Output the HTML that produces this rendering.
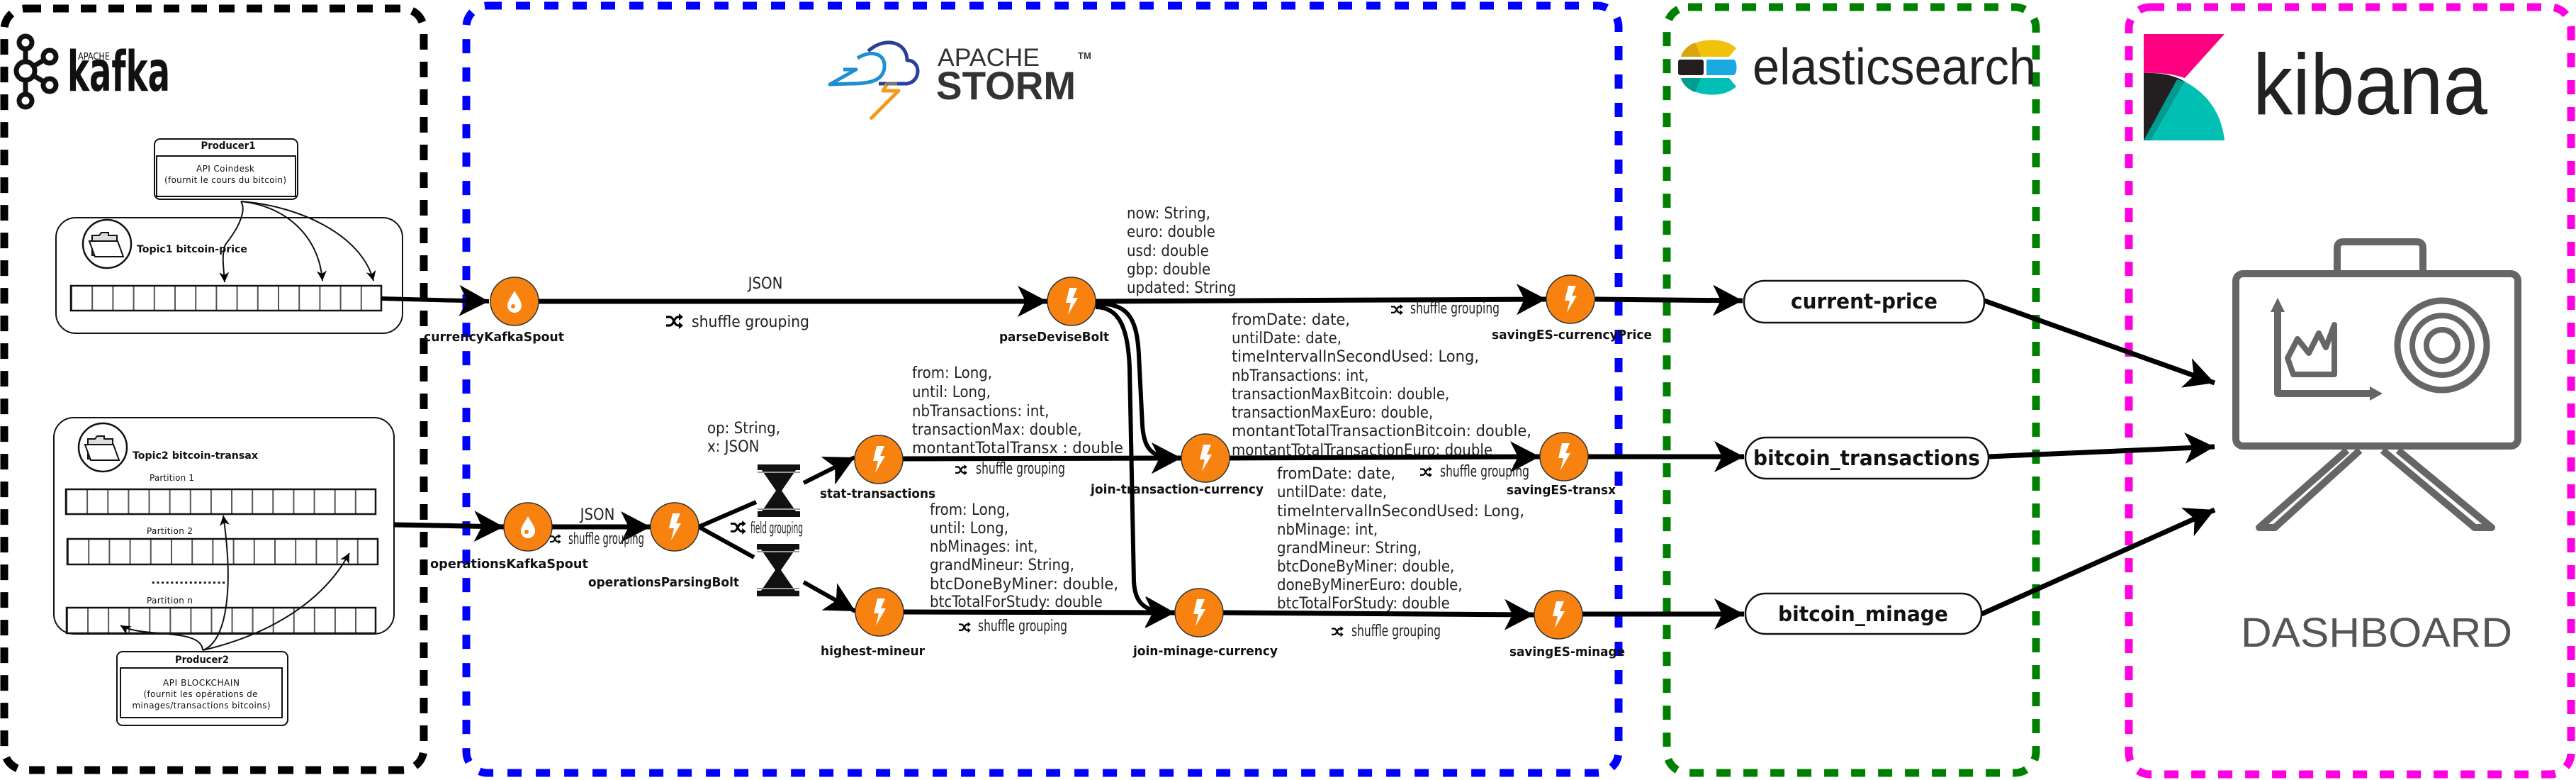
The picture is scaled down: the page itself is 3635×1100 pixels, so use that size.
<!DOCTYPE html>
<html><head><meta charset="utf-8"><style>
html,body{margin:0;padding:0;background:#fff;width:3635px;height:1100px;overflow:hidden}
svg{display:block}
.f{font-family:"DejaVu Sans Condensed","DejaVu Sans","Liberation Sans",sans-serif;font-stretch:condensed;font-size:22px;fill:#222}
.n{font-family:"DejaVu Sans Condensed","DejaVu Sans","Liberation Sans",sans-serif;font-stretch:condensed;font-weight:bold;font-size:18px;fill:#111}
.k{font-family:"DejaVu Sans","Liberation Sans",sans-serif;fill:#111}
</style></head><body>
<svg width="3635" height="1100" viewBox="0 0 3635 1100" xmlns="http://www.w3.org/2000/svg">
<defs>
<marker id="ah" markerUnits="userSpaceOnUse" markerWidth="46" markerHeight="46" refX="42" refY="22" orient="auto"><path d="M0,0 L42,22 L0,44 L11,22 Z" fill="#000"/></marker>
<marker id="as" markerUnits="userSpaceOnUse" markerWidth="16" markerHeight="16" refX="14" refY="7" orient="auto"><path d="M0,0 L14,7 L0,14 L4,7 Z" fill="#000"/></marker>
<g id="bolt"><circle r="34" fill="#f8820f" stroke="#333" stroke-width="1.5"/><path d="M-3,-19 L8,-19 L2,-5 L9,-5 L-5,19 L-1,2 L-8,2 Z" fill="#fff"/></g>
<g id="spout"><circle r="34" fill="#f8820f" stroke="#333" stroke-width="1.5"/><path d="M0,-15 C5,-6 10,0 10,6 A10,10 0 0 1 -10,6 C-10,0 -5,-6 0,-15 Z" fill="#fff"/><circle cx="-2" cy="7" r="3" fill="#f8820f"/></g>
<g id="shuf"><path d="M0,5 H5 C11,5 11,17 17,17 H20 M0,17 H5 C11,17 11,5 17,5 H20" fill="none" stroke="#000" stroke-width="3.2"/><path d="M18,0 L24,5 L18,10 Z M18,12 L24,17 L18,22 Z" fill="#000"/></g>
<g id="hg"><rect x="-30" y="-37" width="60" height="8" fill="#111"/><rect x="-30" y="29" width="60" height="8" fill="#111"/><path d="M-24,-29 L24,-29 L4,0 L24,29 L-24,29 L-4,0 Z" fill="#111"/><rect x="-30" y="-27" width="60" height="2" fill="#999"/><rect x="-30" y="25" width="60" height="2" fill="#999"/></g>
<pattern id="p1" patternUnits="userSpaceOnUse" x="100" y="0" width="29.2" height="10"><rect x="0" width="2" height="10" fill="#555"/></pattern>
<pattern id="p2" patternUnits="userSpaceOnUse" x="93" y="0" width="29.13" height="10"><rect x="0" width="2" height="10" fill="#555"/></pattern>
<pattern id="p3" patternUnits="userSpaceOnUse" x="95" y="0" width="29.2" height="10"><rect x="0" width="2" height="10" fill="#555"/></pattern>
<pattern id="p4" patternUnits="userSpaceOnUse" x="94" y="0" width="29.07" height="10"><rect x="0" width="2" height="10" fill="#555"/></pattern>
</defs>

<!-- Dashed containers -->
<rect x="6" y="12" width="592" height="1074" rx="30" fill="none" stroke="#000" stroke-width="11" stroke-dasharray="22 17"/>
<rect x="658" y="8" width="1626" height="1082" rx="30" fill="none" stroke="#0000ff" stroke-width="11" stroke-dasharray="20 20"/>
<rect x="2352" y="10" width="521" height="1080" rx="30" fill="none" stroke="#008000" stroke-width="11" stroke-dasharray="20 18"/>
<rect x="3004" y="10" width="624" height="1082" rx="30" fill="none" stroke="#ff00e0" stroke-width="11" stroke-dasharray="20 18"/>

<!-- Kafka logo -->
<g fill="none" stroke="#111" stroke-width="7">
<line x1="36" y1="62" x2="36" y2="140"/><line x1="36" y1="100" x2="70" y2="80"/><line x1="36" y1="100" x2="70" y2="120"/>
<circle cx="36" cy="60" r="9" fill="#fff"/><circle cx="36" cy="100" r="13" fill="#fff"/><circle cx="36" cy="142" r="9" fill="#fff"/>
<circle cx="70" cy="80" r="9" fill="#fff"/><circle cx="70" cy="120" r="9" fill="#fff"/>
</g>
<text x="110" y="84" class="k" font-size="13" textLength="45" lengthAdjust="spacingAndGlyphs">APACHE</text>
<text x="95" y="128" class="k" font-size="78" font-weight="bold" textLength="145" lengthAdjust="spacingAndGlyphs" fill="#1a1a1a">kafka</text>

<!-- Producer1 -->
<rect x="218" y="196" width="202" height="85" rx="8" fill="#fff" stroke="#111" stroke-width="2"/>
<rect x="221" y="220" width="196" height="57" fill="none" stroke="#111" stroke-width="2"/>
<text x="322" y="210" class="k" font-size="14" font-weight="bold" text-anchor="middle" textLength="77" lengthAdjust="spacingAndGlyphs">Producer1</text>
<text x="318" y="242" class="k" font-size="12" text-anchor="middle" textLength="82">API Coindesk</text>
<text x="318" y="258" class="k" font-size="12" text-anchor="middle" textLength="172">(fournit le cours du bitcoin)</text>

<!-- Topic1 -->
<rect x="79" y="307" width="489" height="163" rx="28" fill="#fff" stroke="#111" stroke-width="2"/>
<circle cx="151" cy="344" r="34" fill="#fff" stroke="#111" stroke-width="2.5"/>
<path d="M130,332 h10 l3,-4 h10 v4 h12 v28 h-35 Z" fill="#ddd" stroke="#111" stroke-width="2"/>
<path d="M126,340 h40 l8,22 h-40 Z" fill="#fff" stroke="#111" stroke-width="2"/>
<text x="193" y="356" class="k" font-size="14" font-weight="bold" textLength="156" lengthAdjust="spacingAndGlyphs">Topic1 bitcoin-price</text>
<rect x="100" y="403" width="438" height="35" fill="url(#p1)" stroke="#111" stroke-width="2.5"/>
<g fill="none" stroke="#111" stroke-width="2">
<path d="M340,284 C350,300 330,330 318,345 C312,360 316,380 317,398" marker-end="url(#as)"/>
<path d="M340,284 C400,290 450,330 455,396" marker-end="url(#as)"/>
<path d="M340,284 C420,290 510,330 527,396" marker-end="url(#as)"/>
</g>

<!-- Topic2 -->
<rect x="76" y="589" width="480" height="305" rx="28" fill="#fff" stroke="#111" stroke-width="2"/>
<circle cx="145" cy="631" r="34" fill="#fff" stroke="#111" stroke-width="2.5"/>
<path d="M124,619 h10 l3,-4 h10 v4 h12 v28 h-35 Z" fill="#ddd" stroke="#111" stroke-width="2"/>
<path d="M120,627 h40 l8,22 h-40 Z" fill="#fff" stroke="#111" stroke-width="2"/>
<text x="187" y="647" class="k" font-size="14" font-weight="bold" textLength="177" lengthAdjust="spacingAndGlyphs">Topic2 bitcoin-transax</text>
<text x="211" y="678" class="k" font-size="12" textLength="63">Partition 1</text>
<rect x="93" y="690" width="437" height="35" fill="url(#p2)" stroke="#111" stroke-width="2.5"/>
<text x="207" y="753" class="k" font-size="12" textLength="65">Partition 2</text>
<rect x="95" y="760" width="438" height="36" fill="url(#p3)" stroke="#111" stroke-width="2.5"/>
<text x="213" y="823" class="k" font-size="14" font-weight="bold" textLength="106" lengthAdjust="spacingAndGlyphs">................</text>
<text x="207" y="851" class="k" font-size="12" textLength="65">Partition n</text>
<rect x="94" y="857" width="436" height="36" fill="url(#p4)" stroke="#111" stroke-width="2.5"/>

<!-- Producer2 -->
<rect x="165" y="919" width="241" height="104" rx="8" fill="#fff" stroke="#111" stroke-width="2"/>
<rect x="170" y="942" width="228" height="70" fill="none" stroke="#111" stroke-width="2"/>
<text x="285" y="935" class="k" font-size="14" font-weight="bold" text-anchor="middle" textLength="76" lengthAdjust="spacingAndGlyphs">Producer2</text>
<text x="284" y="967" class="k" font-size="12" text-anchor="middle" textLength="108">API BLOCKCHAIN</text>
<text x="283" y="983" class="k" font-size="12" text-anchor="middle" textLength="161">(fournit les opérations de</text>
<text x="284" y="999" class="k" font-size="12" text-anchor="middle" textLength="195">minages/transactions bitcoins)</text>
<g fill="none" stroke="#111" stroke-width="2">
<path d="M286,917 C320,905 330,830 315,727" marker-end="url(#as)"/>
<path d="M286,917 C360,900 450,860 493,780" marker-end="url(#as)"/>
<path d="M286,917 C285,885 200,900 170,882" marker-end="url(#as)"/>
</g>

<!-- Storm logo -->
<g fill="none" stroke-linejoin="round">
<path d="M1225,72 C1250,50 1280,60 1280,85 C1300,85 1300,115 1280,118 L1240,118" stroke="#2a3f9a" stroke-width="5"/>
<path d="M1210,82 C1228,70 1250,75 1248,95 C1246,115 1225,118 1200,118 L1171,119 L1208,98 L1190,98" stroke="#1e8fd0" stroke-width="5"/>
<path d="M1252,118 L1246,128 L1268,128 L1228,168" stroke="#f29b20" stroke-width="5"/>
<path d="M1250,118 L1266,118" stroke="#777" stroke-width="5"/>
</g>
<text x="1323" y="93" font-family="Liberation Sans,sans-serif" font-size="35" fill="#333" textLength="144" lengthAdjust="spacingAndGlyphs">APACHE</text>
<text x="1321" y="140" font-family="Liberation Sans,sans-serif" font-size="56" font-weight="bold" fill="#333" textLength="197" lengthAdjust="spacingAndGlyphs">STORM</text>
<text x="1521" y="83" font-family="Liberation Sans,sans-serif" font-size="13" font-weight="bold" fill="#333">TM</text>

<!-- Main arrows -->
<g stroke="#000" stroke-width="7" fill="none">
<line x1="538" y1="421" x2="690" y2="425" stroke-width="6" marker-end="url(#ah)"/>
<line x1="760" y1="425" x2="1478" y2="425" marker-end="url(#ah)"/>
<line x1="1546" y1="425" x2="2182" y2="422" marker-end="url(#ah)"/>
<line x1="2251" y1="422" x2="2459" y2="424" marker-end="url(#ah)"/>
<path d="M1546,428 C1590,428 1604,445 1607,500 L1612,600 C1615,640 1630,646 1667,646" stroke-width="6" marker-end="url(#ah)"/>
<path d="M1546,433 C1578,433 1592,460 1594,520 L1600,820 C1602,858 1622,863 1658,864" stroke-width="6" marker-end="url(#ah)"/>
<line x1="1274" y1="647" x2="1667" y2="646" marker-end="url(#ah)"/>
<line x1="1735" y1="646" x2="2173" y2="644" marker-end="url(#ah)"/>
<line x1="2241" y1="644" x2="2461" y2="644" marker-end="url(#ah)"/>
<line x1="1275" y1="863" x2="1658" y2="864" marker-end="url(#ah)"/>
<line x1="1726" y1="864" x2="2165" y2="867" marker-end="url(#ah)"/>
<line x1="2233" y1="866" x2="2461" y2="866" marker-end="url(#ah)"/>
<line x1="556" y1="740" x2="711" y2="743" marker-end="url(#ah)"/>
<line x1="779" y1="743" x2="918" y2="743" marker-end="url(#ah)"/>
<line x1="986" y1="743" x2="1067" y2="708" stroke-width="6"/>
<line x1="986" y1="743" x2="1064" y2="786" stroke-width="6"/>
<line x1="1134" y1="681" x2="1206" y2="645" stroke-width="6" marker-end="url(#ah)"/>
<line x1="1134" y1="821" x2="1207" y2="862" stroke-width="6" marker-end="url(#ah)"/>
<line x1="2800" y1="424" x2="3125" y2="540" marker-end="url(#ah)"/>
<line x1="2806" y1="644" x2="3125" y2="630" marker-end="url(#ah)"/>
<line x1="2796" y1="866" x2="3125" y2="719" marker-end="url(#ah)"/>
</g>

<use href="#hg" x="1099" y="692"/>
<use href="#hg" x="1098" y="804"/>

<!-- Nodes -->
<use href="#spout" x="726" y="425"/>
<use href="#spout" x="745" y="743"/>
<use href="#bolt" x="1512" y="425"/>
<use href="#bolt" x="952" y="743"/>
<use href="#bolt" x="1240" y="648"/>
<use href="#bolt" x="1241" y="863"/>
<use href="#bolt" x="1701" y="646"/>
<use href="#bolt" x="1692" y="864"/>
<use href="#bolt" x="2216" y="422"/>
<use href="#bolt" x="2207" y="644"/>
<use href="#bolt" x="2199" y="867"/>

<text x="598" y="481" class="n" textLength="198" lengthAdjust="spacingAndGlyphs">currencyKafkaSpout</text>
<text x="1410" y="481" class="n" textLength="155" lengthAdjust="spacingAndGlyphs">parseDeviseBolt</text>
<text x="607" y="801" class="n" textLength="223" lengthAdjust="spacingAndGlyphs">operationsKafkaSpout</text>
<text x="830" y="827" class="n" textLength="213" lengthAdjust="spacingAndGlyphs">operationsParsingBolt</text>
<text x="1157" y="702" class="n" textLength="163" lengthAdjust="spacingAndGlyphs">stat-transactions</text>
<text x="1158" y="924" class="n" textLength="147" lengthAdjust="spacingAndGlyphs">highest-mineur</text>
<text x="1539" y="696" class="n" textLength="244" lengthAdjust="spacingAndGlyphs">join-transaction-currency</text>
<text x="1599" y="924" class="n" textLength="204" lengthAdjust="spacingAndGlyphs">join-minage-currency</text>
<text x="2105" y="478" class="n" textLength="226" lengthAdjust="spacingAndGlyphs">savingES-currencyPrice</text>
<text x="2126" y="697" class="n" textLength="154" lengthAdjust="spacingAndGlyphs">savingES-transx</text>
<text x="2130" y="925" class="n" textLength="163" lengthAdjust="spacingAndGlyphs">savingES-minage</text>

<!-- Edge labels -->
<text x="1080" y="407" class="f" font-size="24" text-anchor="middle">JSON</text>
<use href="#shuf" x="940" y="442"/>
<text x="976" y="461" class="f" font-size="20" textLength="166" lengthAdjust="spacingAndGlyphs">shuffle grouping</text>
<text x="843" y="733" class="f" font-size="24" text-anchor="middle">JSON</text>
<use href="#shuf" transform="translate(776,753) scale(0.65)"/>
<text x="802" y="767" class="f" font-size="14" textLength="107" lengthAdjust="spacingAndGlyphs">shuffle grouping</text>
<use href="#shuf" transform="translate(1031,734) scale(0.9)"/>
<text x="1059" y="752" class="f" font-size="17" textLength="74" lengthAdjust="spacingAndGlyphs">field grouping</text>
<use href="#shuf" transform="translate(1348,655) scale(0.7)"/>
<text x="1377" y="668" class="f" font-size="15" textLength="126" lengthAdjust="spacingAndGlyphs">shuffle grouping</text>
<use href="#shuf" transform="translate(1353,877) scale(0.7)"/>
<text x="1380" y="890" class="f" font-size="15" textLength="126" lengthAdjust="spacingAndGlyphs">shuffle grouping</text>
<use href="#shuf" transform="translate(1963,429) scale(0.7)"/>
<text x="1990" y="442" class="f" font-size="15" textLength="126" lengthAdjust="spacingAndGlyphs">shuffle grouping</text>
<use href="#shuf" transform="translate(2004,658) scale(0.7)"/>
<text x="2032" y="672" class="f" font-size="15" textLength="126" lengthAdjust="spacingAndGlyphs">shuffle grouping</text>
<use href="#shuf" transform="translate(1879,883) scale(0.7)"/>
<text x="1907" y="897" class="f" font-size="15" textLength="126" lengthAdjust="spacingAndGlyphs">shuffle grouping</text>

<!-- Field lists -->
<g class="f">
<text x="1590" y="308">now: String,</text>
<text x="1590" y="334">euro: double</text>
<text x="1590" y="361">usd: double</text>
<text x="1590" y="387">gbp: double</text>
<text x="1590" y="413">updated: String</text>

<text x="998" y="611">op: String,</text>
<text x="998" y="637">x: JSON</text>

<text x="1287" y="533">from: Long,</text>
<text x="1287" y="560">until: Long,</text>
<text x="1287" y="587">nbTransactions: int,</text>
<text x="1287" y="613">transactionMax: double,</text>
<text x="1287" y="639" textLength="298" lengthAdjust="spacingAndGlyphs">montantTotalTransx : double</text>

<text x="1312" y="726">from: Long,</text>
<text x="1312" y="752">until: Long,</text>
<text x="1312" y="778">nbMinages: int,</text>
<text x="1312" y="804">grandMineur: String,</text>
<text x="1312" y="831" textLength="266" lengthAdjust="spacingAndGlyphs">btcDoneByMiner: double,</text>
<text x="1312" y="856">btcTotalForStudy: double</text>

<text x="1738" y="458" textLength="167" lengthAdjust="spacingAndGlyphs">fromDate: date,</text>
<text x="1738" y="484">untilDate: date,</text>
<text x="1738" y="510" textLength="349" lengthAdjust="spacingAndGlyphs">timeIntervalInSecondUsed: Long,</text>
<text x="1738" y="537">nbTransactions: int,</text>
<text x="1738" y="563">transactionMaxBitcoin: double,</text>
<text x="1738" y="589">transactionMaxEuro: double,</text>
<text x="1738" y="615" textLength="423" lengthAdjust="spacingAndGlyphs">montantTotalTransactionBitcoin: double,</text>
<text x="1738" y="642">montantTotalTransactionEuro: double</text>

<text x="1802" y="675" textLength="167" lengthAdjust="spacingAndGlyphs">fromDate: date,</text>
<text x="1802" y="701">untilDate: date,</text>
<text x="1802" y="728" textLength="349" lengthAdjust="spacingAndGlyphs">timeIntervalInSecondUsed: Long,</text>
<text x="1802" y="754">nbMinage: int,</text>
<text x="1802" y="780">grandMineur: String,</text>
<text x="1802" y="806">btcDoneByMiner: double,</text>
<text x="1802" y="832">doneByMinerEuro: double,</text>
<text x="1802" y="858">btcTotalForStudy: double</text>
</g>

<!-- Elasticsearch logo -->
<path d="M2372,80 C2378,55 2430,48 2450,68 L2440,80 Z" fill="#f0c20a"/>
<path d="M2372,80 C2375,70 2382,64 2392,60 L2400,80 Z" fill="#d9a50a"/>
<rect x="2368" y="84" width="36" height="22" rx="3" fill="#231f20"/>
<path d="M2408,84 H2446 C2452,84 2452,106 2446,106 H2408 Z" fill="#1ba9e1"/>
<path d="M2372,110 L2440,110 L2450,122 C2430,142 2378,135 2372,110 Z" fill="#00bfb3"/>
<path d="M2372,110 L2400,110 L2392,130 C2382,126 2375,120 2372,110 Z" fill="#019b8f"/>
<text x="2473" y="119" font-family="Liberation Sans,sans-serif" font-size="72" fill="#222" textLength="400" lengthAdjust="spacingAndGlyphs">elasticsearch</text>

<!-- ES indices -->
<g stroke="#111" stroke-width="2.5" fill="#fff">
<rect x="2461" y="396" width="339" height="59" rx="29"/>
<rect x="2463" y="617" width="343" height="58" rx="29"/>
<rect x="2463" y="837" width="333" height="57" rx="28"/>
</g>
<g font-family="DejaVu Sans Condensed,DejaVu Sans,Liberation Sans,sans-serif" font-weight="bold" font-size="29" fill="#111">
<text x="2527" y="435" textLength="207" lengthAdjust="spacingAndGlyphs">current-price</text>
<text x="2474" y="656" textLength="320" lengthAdjust="spacingAndGlyphs">bitcoin_transactions</text>
<text x="2509" y="876" textLength="240" lengthAdjust="spacingAndGlyphs">bitcoin_minage</text>
</g>

<!-- Kibana logo -->
<path d="M3025,48 L3139,48 L3083,110 C3065,104 3045,102 3025,103 Z" fill="#ff0080"/>
<path d="M3025,103 C3048,102 3068,106 3083,115 L3025,198 Z" fill="#231f20"/>
<path d="M3035,198 L3083,115 C3115,132 3135,160 3139,198 Z" fill="#00bfb3"/>
<path d="M3025,198 L3035,198 L3083,115 L3072,112 Z" fill="#019b8f"/>
<text x="3179" y="161" font-family="Liberation Sans,sans-serif" font-size="122" fill="#222" textLength="331" lengthAdjust="spacingAndGlyphs">kibana</text>

<!-- Dashboard icon -->
<g fill="none" stroke="#666" stroke-width="10" stroke-linejoin="round">
<path d="M3298,384 V350 Q3298,341 3307,341 H3410 Q3419,341 3419,350 V384"/>
<rect x="3155" y="386" width="398" height="243" rx="10"/>
<path d="M3312,635 L3188,744 H3210 L3330,635"/>
<path d="M3362,635 L3492,744 H3516 L3384,635"/>
<path d="M3214,430 V555 H3352"/>
<path d="M3228,505 L3242,478 L3258,498 L3272,470 L3282,490 L3294,458 V528 H3236 Z" stroke-width="8"/>
<circle cx="3446" cy="487" r="63" stroke-width="9"/>
<circle cx="3446" cy="487" r="42" stroke-width="8"/>
<circle cx="3446" cy="487" r="22" stroke-width="8"/>
</g>
<path d="M3214,420 L3204,440 L3224,440 Z M3362,555 L3344,545 L3344,565 Z" fill="#666"/>
<text x="3162" y="912" font-family="Liberation Sans,sans-serif" font-size="58" fill="#555" textLength="383" lengthAdjust="spacingAndGlyphs">DASHBOARD</text>
</svg>
</body></html>
